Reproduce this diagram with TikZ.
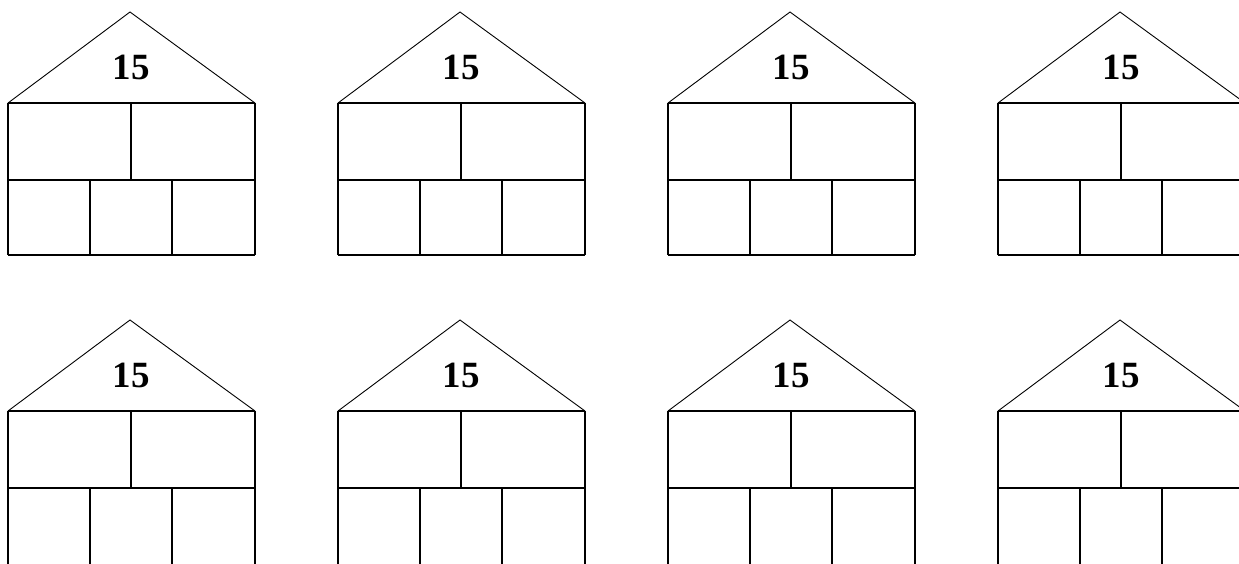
\documentclass[tikz,border=0pt]{standalone}
\usepackage{fontspec}
\setmainfont{Liberation Serif}
\tikzset{
  roofline/.style={line width=0.9pt},
  wallline/.style={line width=1.9pt},
  roofnum/.style={font=\fontsize{37}{40}\selectfont\bfseries, inner sep=0pt}
}
\begin{document}
\begin{tikzpicture}[x=1pt,y=-1pt]
\useasboundingbox (0,0) rectangle (1239,563);
\clip (0,0) rectangle (1239,563);
\foreach \row/\dy/\bot in {1/0/255,2/308/270}{
  \foreach \col/\dx in {1/8,2/338,3/668,4/998}{
    \begin{scope}[shift={(\dx,\dy)}]
      \draw[roofline] (0,103) -- (122,12) -- (247,103);
      \node[roofnum] (n\row\col) at (123,67) {15};
      \draw[wallline] (0,103) -- (247,103);
      \draw[wallline] (0,180) -- (247,180);
      \draw[wallline] (0,103) -- (0,\bot);
      \draw[wallline] (247,103) -- (247,\bot);
      \draw[wallline] (123,103) -- (123,180);
      \draw[wallline] (82,180) -- (82,\bot);
      \draw[wallline] (164,180) -- (164,\bot);
    \end{scope}
  }
}
\foreach \dx in {8,338,668,998}{
  \draw[wallline] (\dx,255) -- ++(247,0);
}
\end{tikzpicture}
\end{document}
